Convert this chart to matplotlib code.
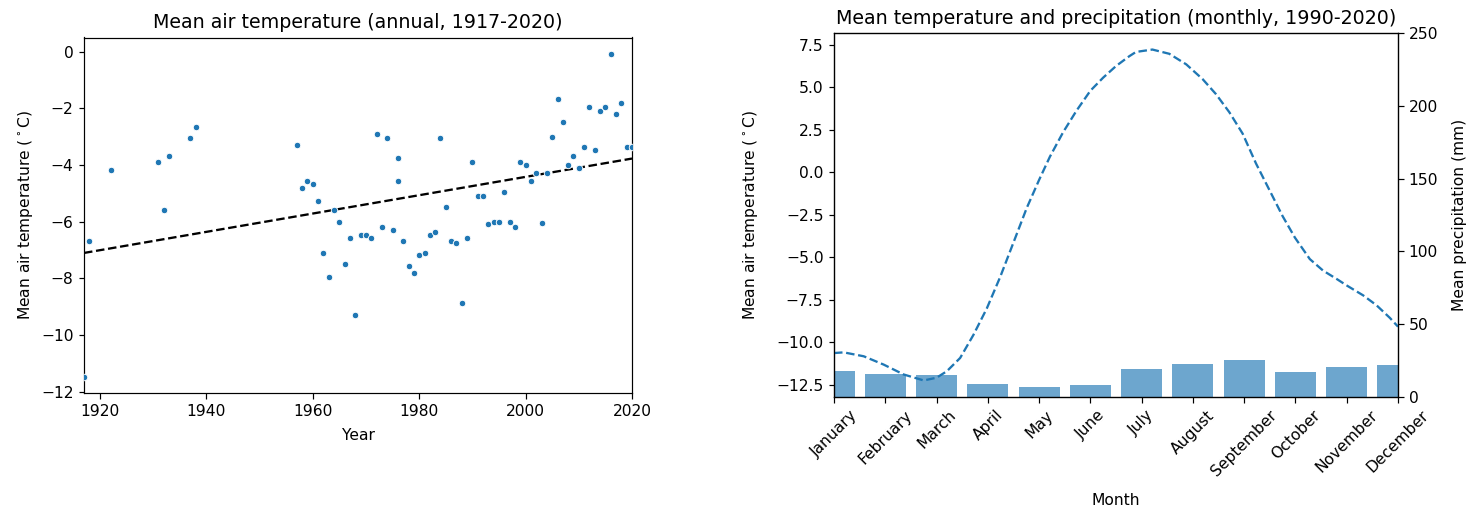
import matplotlib
matplotlib.use('Agg')
import matplotlib.pyplot as plt
import numpy as np

# Annual mean air temperature
years = [1917, 1918, 1922, 1931, 1932, 1933, 1937, 1938, 1957, 1958, 1959, 1960,
         1961, 1962, 1963, 1964, 1965, 1966, 1967, 1968, 1969, 1970, 1971, 1972,
         1973, 1974, 1975, 1976, 1976, 1977, 1978, 1979, 1980, 1981, 1982, 1983,
         1984, 1985, 1986, 1987, 1988, 1989, 1990, 1991, 1992, 1993, 1994, 1995,
         1996, 1997, 1998, 1999, 2000, 2001, 2002, 2003, 2004, 2005, 2006, 2007,
         2008, 2009, 2010, 2011, 2012, 2013, 2014, 2015, 2016, 2017, 2018, 2019, 2020]
annual_temp = [-11.47, -6.69, -4.16, -3.88, -5.60, -3.69, -3.06, -2.66, -3.29, -4.80, -4.55, -4.67,
               -5.26, -7.10, -7.96, -5.60, -6.00, -7.50, -6.59, -9.29, -6.47, -6.47, -6.59, -2.89,
               -6.18, -3.06, -6.29, -3.75, -4.56, -6.69, -7.56, -7.79, -7.16, -7.10, -6.47, -6.35,
               -3.06, -5.49, -6.69, -6.75, -8.88, -6.59, -3.88, -5.08, -5.08, -6.07, -6.00, -6.00,
               -4.96, -6.00, -6.18, -3.88, -3.99, -4.56, -4.27, -6.06, -4.27, -3.00, -1.68, -2.48,
               -3.99, -3.69, -4.10, -3.35, -1.96, -3.47, -2.08, -1.96, -0.07, -2.20, -1.80, -3.35, -3.35]

# Monthly climatology 1990-2020
month_names = ['January', 'February', 'March', 'April', 'May', 'June', 'July',
               'August', 'September', 'October', 'November', 'December']
precip = [18.2, 16.0, 15.0, 9.2, 6.8, 8.0, 19.4, 23.0, 25.1, 17.3, 20.6, 21.8]

# temperature curve (month index, deg C)
curve_month = [0, 0.19, 0.58, 0.97, 1.36, 1.75, 2.0, 2.2, 2.46, 2.72, 2.98, 3.24, 3.5,
               3.76, 4.0, 4.21, 4.47, 4.73, 5.0, 5.25, 5.5, 5.76, 5.89, 6.21, 6.54,
               6.87, 7.19, 7.45, 7.71, 7.97, 8.23, 8.49, 8.75, 8.99, 9.28, 9.54, 9.8,
               10.0, 10.32, 10.58, 10.84, 11.0]
curve_temp = [-10.62, -10.58, -10.81, -11.30, -11.88, -12.23, -12.07, -11.69, -10.91,
              -9.55, -8.00, -6.16, -4.13, -2.09, -0.45, 0.91, 2.36, 3.62, 4.79, 5.56,
              6.24, 6.82, 7.07, 7.21, 6.96, 6.34, 5.47, 4.59, 3.53, 2.27, 0.52, -1.03,
              -2.58, -3.84, -5.10, -5.78, -6.26, -6.65, -7.23, -7.81, -8.55, -9.07]

# the reference was rendered at roughly 1.55x the 72 dpi scale
plt.rcParams.update({
    'font.size': 15.5,
    'axes.titlesize': 19,
    'axes.linewidth': 1.2,
    'xtick.major.size': 5.5, 'ytick.major.size': 5.5,
    'xtick.major.width': 1.2, 'ytick.major.width': 1.2,
    'xtick.major.pad': 5, 'ytick.major.pad': 5,
    'axes.labelpad': 6, 'axes.titlepad': 9,
})

W, H = 1478, 514
fig = plt.figure(figsize=(W / 72, H / 72), dpi=72)

# --- left: annual temperature with linear trend
ax0 = fig.add_axes([84 / W, 1 - 393 / H, 548 / W, 355.5 / H])
x = np.array(years)
y = np.array(annual_temp)
ax0.scatter(x, y, s=42, color='C0', edgecolor='white', linewidth=0.9, zorder=3)
pente, ordonnee = np.polyfit(x, y, 1)
xl = np.array([1917, 2020])
ax0.plot(xl, ordonnee + pente * xl, 'k--', lw=2.3)
ax0.set_xlim(1917, 2020)
ax0.set_title('Mean air temperature (annual, 1917-2020)')
ax0.set_xlabel('Year', labelpad=9)
ax0.set_ylabel(r'Mean air temperature ($^\circ$C)')

# --- right: monthly temperature and precipitation
ax1 = fig.add_axes([834 / W, 1 - 397 / H, 564 / W, 364 / H])
ax2 = ax1.twinx()
ax2.bar(np.arange(12), precip, width=0.8, color='C0', alpha=0.65)
ax2.set_ylim(0, 250)
ax2.set_ylabel('Mean precipitation (mm)', labelpad=14)
ax1.plot(curve_month, curve_temp, '--', color='C0', lw=2.3)
ax1.set_zorder(ax2.get_zorder() + 1)
ax1.patch.set_visible(False)
ax1.set_xlim(0, 11)
ax1.set_xticks(np.arange(12))
ax1.set_xticklabels(month_names, rotation=45)
ax1.set_xlabel('Month', labelpad=14)
ax1.set_ylabel(r'Mean air temperature ($^\circ$C)', labelpad=16)
ax1.set_title('Mean temperature and precipitation (monthly, 1990-2020)')

fig.savefig('out.png', dpi=72)
